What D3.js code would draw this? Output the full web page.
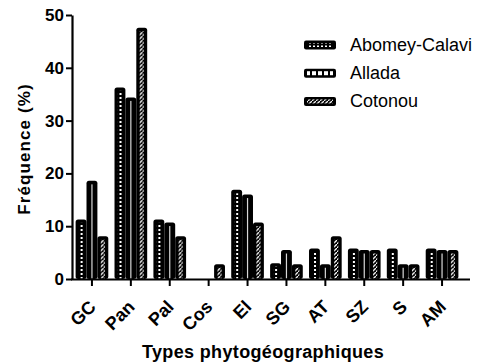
<!DOCTYPE html>
<html>
<head>
<meta charset="utf-8">
<script src="https://cdn.jsdelivr.net/npm/d3@7"></script>
<style>
  body { margin: 0; background: #fff; }
  svg { display: block; font-family: "Liberation Sans", Arial, sans-serif; }
</style>
</head>
<body>
<div id="chart"></div>
<script>
// categories and series
const categories = ['GC', 'Pan', 'Pal', 'Cos', 'El', 'SG', 'AT', 'SZ', 'S', 'AM'];
const seriesNames = ['Abomey-Calavi', 'Allada', 'Cotonou'];
const abomeyCalavi = [11.1, 36.1, 11.1, 0, 16.7, 2.8, 5.6, 5.6, 5.6, 5.6];
const allada = [18.4, 34.2, 10.5, 0, 15.8, 5.3, 2.6, 5.3, 2.6, 5.3];
const cotonou = [7.9, 47.4, 7.9, 2.6, 10.5, 2.6, 7.9, 5.3, 2.6, 5.3];
const yTicks = [0, 10, 20, 30, 40, 50];

const seriesValues = [abomeyCalavi, allada, cotonou];
const data = categories.map((c, i) => ({
  cat: c,
  vals: seriesNames.map((s, k) => ({ key: s, k: k, value: seriesValues[k][i] }))
}));

const W = 481, H = 363;
const FONT = '"Liberation Sans", Arial, sans-serif';
const svg = d3.select('#chart').append('svg')
  .attr('width', W)
  .attr('height', H);

// patterns
const defs = svg.append('defs');
const pDots = defs.append('pattern').attr('id', 'p0')
  .attr('patternUnits', 'userSpaceOnUse').attr('width', 4).attr('height', 4);
pDots.append('rect').attr('width', 4).attr('height', 4).attr('fill', '#000');
pDots.append('rect').attr('x', 1).attr('y', 1).attr('width', 2).attr('height', 2).attr('fill', '#fff');

const pLines = defs.append('pattern').attr('id', 'p1')
  .attr('patternUnits', 'userSpaceOnUse').attr('width', 6).attr('height', 6);
pLines.append('rect').attr('width', 6).attr('height', 6).attr('fill', '#fff');
pLines.append('rect').attr('x', 0).attr('width', 2).attr('height', 6).attr('fill', '#000');

const pHatch = defs.append('pattern').attr('id', 'p2')
  .attr('patternUnits', 'userSpaceOnUse').attr('width', 4).attr('height', 4);
pHatch.append('rect').attr('width', 4).attr('height', 4).attr('fill', '#000');
pHatch.append('path').attr('d', 'M-1,5 L5,-1').attr('stroke', '#fff').attr('stroke-width', 1.3);

const x0 = d3.scaleBand()
  .domain(categories)
  .range([72.5, 461.5])
  .paddingInner(0.16)
  .paddingOuter(0.08);

const x1 = d3.scaleBand()
  .domain(seriesNames)
  .range([0, x0.bandwidth()]);

const y = d3.scaleLinear()
  .domain([0, 50])
  .range([279, 15]);

// bars
const groups = svg.selectAll('.grp')
  .data(data)
  .enter().append('g')
  .attr('class', 'grp')
  .attr('transform', d => `translate(${x0(d.cat)},0)`);

const bars = groups.selectAll('.bar')
  .data(d => d.vals.filter(v => v.value > 0))
  .enter().append('g')
  .attr('class', 'bar');

bars.append('rect')
  .attr('x', d => x1(d.key))
  .attr('y', d => y(d.value) - 1)
  .attr('width', x1.bandwidth())
  .attr('height', d => y(0) - y(d.value) + 1)
  .attr('rx', 2.5)
  .attr('fill', '#000');

// inner pattern strip
bars.append('rect')
  .attr('x', d => d.k === 1 ? x1(d.key) + x1.bandwidth() / 2 - 0.6 : x1(d.key) + 3.4)
  .attr('y', d => y(d.value) + 2.5)
  .attr('width', d => d.k === 1 ? 1.2 : x1.bandwidth() - 6.8)
  .attr('height', d => Math.max(0, y(0) - y(d.value) - 3))
  .attr('fill', d => d.k === 0 ? 'url(#p0)' : d.k === 1 ? '#d8d8d8' : 'url(#p2)');

// y axis
const yAxis = svg.append('g')
  .attr('transform', 'translate(72,0)')
  .call(d3.axisLeft(y).tickValues(yTicks).tickSize(6).tickPadding(2).tickSizeOuter(0));
yAxis.select('.domain').attr('stroke-width', 2.2);
yAxis.selectAll('.tick line').attr('stroke-width', 2);
yAxis.selectAll('.tick text')
  .attr('font-size', 17)
  .attr('font-weight', 'bold')
  .attr('font-family', FONT)
  .attr('fill', '#000');

// x axis
const xAxis = svg.append('g')
  .attr('transform', 'translate(0,279)')
  .call(d3.axisBottom(x0).tickSize(7).tickSizeOuter(0));
xAxis.select('.domain').attr('d', 'M71,0.5H470').attr('stroke-width', 2.2);
xAxis.selectAll('.tick line').attr('stroke-width', 2);
xAxis.selectAll('.tick text')
  .attr('font-size', 18)
  .attr('font-weight', 'bold')
  .attr('font-family', FONT)
  .attr('fill', '#000')
  .attr('text-anchor', 'end')
  .attr('dy', null)
  .attr('y', 0)
  .attr('transform', 'translate(5,29) rotate(-45)');

// axis titles
svg.append('text')
  .attr('transform', 'translate(30,149) rotate(-90)')
  .attr('text-anchor', 'middle')
  .attr('font-size', 17)
  .attr('font-weight', 'bold')
  .attr('letter-spacing', 1.1)
  .text('Fréquence (%)');

svg.append('text')
  .attr('x', 263)
  .attr('y', 358)
  .attr('text-anchor', 'middle')
  .attr('font-size', 18)
  .attr('font-weight', 'bold')
  .attr('letter-spacing', 0.35)
  .text('Types phytogéographiques');

// legend
const legend = svg.append('g').attr('transform', 'translate(304,40.5)');
const items = legend.selectAll('.item')
  .data(seriesNames)
  .enter().append('g')
  .attr('class', 'item')
  .attr('transform', (d, i) => `translate(0,${i * 28.2})`);

items.append('rect')
  .attr('width', 32).attr('height', 9).attr('rx', 2).attr('fill', '#000');
items.append('rect')
  .attr('x', 3).attr('y', 2.5).attr('width', 26).attr('height', 4)
  .attr('fill', (d, i) => i === 0 ? 'url(#p0)' : i === 1 ? 'url(#p1)' : 'url(#p2)');
items.append('text')
  .attr('x', 46)
  .attr('y', 10.5)
  .attr('font-size', 18)
  .text(d => d);
</script>
</body>
</html>
